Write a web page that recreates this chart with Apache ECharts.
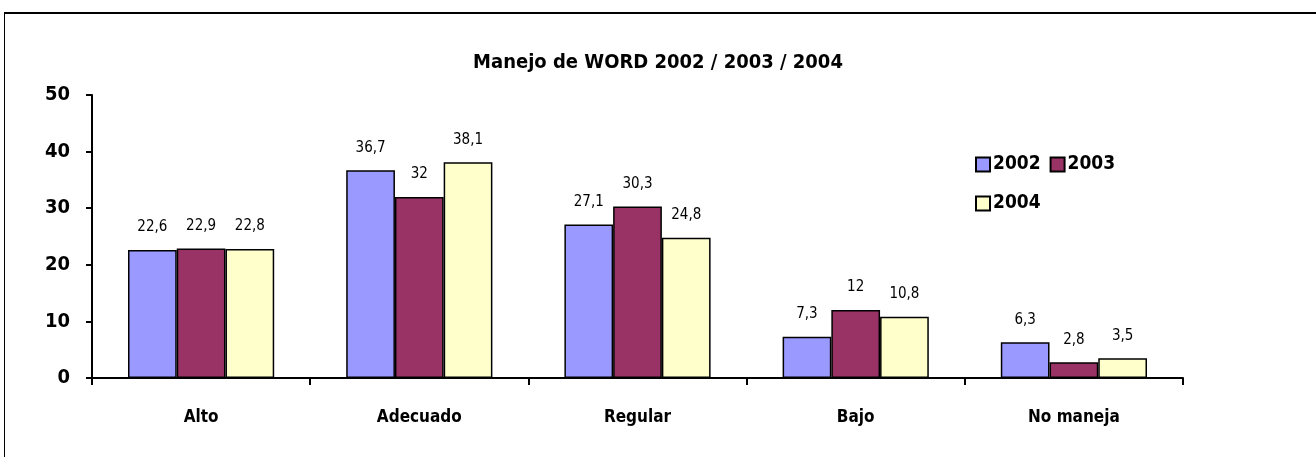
<!DOCTYPE html>
<html>
<head>
<meta charset="utf-8">
<title>Manejo de WORD</title>
<script src="https://cdn.jsdelivr.net/npm/echarts@6/dist/echarts.min.js"></script>
<style>
	html, body { margin: 0; padding: 0; background: #fff; }
	#chart { width: 1316px; height: 457px; }
</style>
</head>
<body>
<div id="chart"></div>
<script>
// datos
var categorias = ['Alto', 'Adecuado', 'Regular', 'Bajo', 'No maneja'];
var anios = ['2002', '2003', '2004'];
var datos2002 = [22.6, 36.7, 27.1, 7.3, 6.3];
var datos2003 = [22.9, 32, 30.3, 12, 2.8];
var datos2004 = [22.8, 38.1, 24.8, 10.8, 3.5];
var colores = ['#9999ff', '#993366', '#ffffcc'];

var fuente = '"DejaVu Sans Condensed", "Liberation Sans Narrow", sans-serif';

function serie(nombre, valores, color) {
	return {
		name: nombre,
		type: 'bar',
		barGap: 0,
		barCategoryGap: '33%',
		itemStyle: {
			color: color,
			borderColor: '#000',
			borderWidth: 1.5
		},
		label: {
			show: true,
			position: 'top',
			distance: 15,
			fontFamily: fuente,
			fontSize: 15,
			color: '#000',
			formatter: function (p) {
				return String(p.value).replace('.', ',');
			}
		},
		data: valores
	};
}

var chart = echarts.init(document.getElementById('chart'));
chart.setOption({
	animation: false,
	textStyle: { fontFamily: fuente },
	title: {
		text: 'Manejo de WORD 2002 / 2003 / 2004',
		left: 'center',
		top: 48,
		textStyle: { fontFamily: fuente, fontSize: 20, fontWeight: 'bold', color: '#000' }
	},
	// dos leyendas para tener dos filas como en el original
	legend: [{
		data: anios.slice(0, 2),
		left: 970,
		top: 150,
		itemWidth: 14,
		itemHeight: 14,
		itemGap: 9,
		icon: 'rect',
		textStyle: { fontFamily: fuente, fontSize: 19, fontWeight: 'bold', color: '#000', padding: [0, 0, 0, -2] }
	}, {
		data: anios.slice(2),
		left: 970,
		top: 189,
		itemWidth: 14,
		itemHeight: 14,
		icon: 'rect',
		textStyle: { fontFamily: fuente, fontSize: 19, fontWeight: 'bold', color: '#000', padding: [0, 0, 0, -2] }
	}],
	grid: {
		left: 92,
		right: 133,
		top: 95,
		bottom: 79,
		containLabel: false
	},
	xAxis: {
		type: 'category',
		data: categorias,
		axisLine: { lineStyle: { color: '#000', width: 2 } },
		axisTick: { show: true, length: 7, lineStyle: { color: '#000', width: 2 } },
		axisLabel: { margin: 31, fontFamily: fuente, fontSize: 17, fontWeight: 'bold', color: '#000' }
	},
	yAxis: {
		type: 'value',
		min: 0,
		max: 50,
		interval: 10,
		splitLine: { show: false },
		axisLine: { show: true, lineStyle: { color: '#000', width: 2 } },
		axisTick: { show: true, length: 6, lineStyle: { color: '#000', width: 2 } },
		axisLabel: { margin: 22, fontFamily: fuente, fontSize: 20, fontWeight: 'bold', color: '#000' }
	},
	graphic: [
		{ type: 'line', shape: { x1: 4, y1: 13, x2: 1316, y2: 13 }, style: { stroke: '#000', lineWidth: 2 } },
		{ type: 'line', shape: { x1: 4.5, y1: 12, x2: 4.5, y2: 457 }, style: { stroke: '#000', lineWidth: 1 } }
	],
	series: [
		serie(anios[0], datos2002, colores[0]),
		serie(anios[1], datos2003, colores[1]),
		serie(anios[2], datos2004, colores[2])
	]
});
</script>
</body>
</html>
